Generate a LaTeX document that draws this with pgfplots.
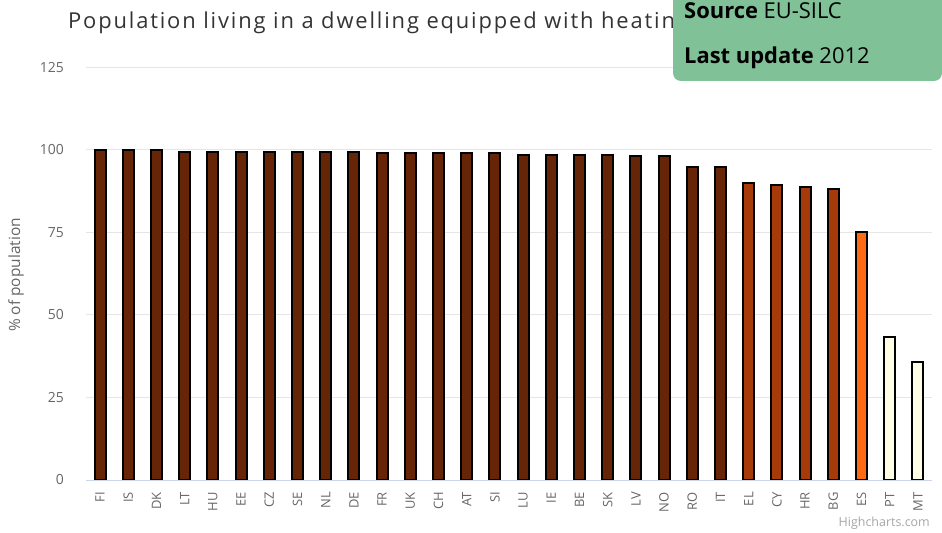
\documentclass[border=0pt]{standalone}
\usepackage{pgfplots}
\pgfplotsset{compat=1.18}
\usepackage{fontspec}
\setmainfont{Open Sans}
\newfontfamily\titlefont[LetterSpace=8.4]{Open Sans}
\definecolor{cdark}{HTML}{662506}
\definecolor{cmid}{HTML}{A63A08}
\definecolor{corange}{HTML}{FE6A14}
\definecolor{clight}{HTML}{FFFFE5}
\definecolor{gridgray}{HTML}{E6E6E6}
\definecolor{axisblue}{HTML}{CCD6EB}
\definecolor{labelgray}{HTML}{666666}
\definecolor{titlegray}{HTML}{333333}
\definecolor{boxgreen}{HTML}{80C197}
\begin{document}
\begin{tikzpicture}
\path[use as bounding box] (0,0) rectangle (942bp,533bp);
\begin{axis}[
  at={(86bp,53bp)}, anchor=south west,
  scale only axis, width=846bp, height=412.5bp,
  xmin=-0.5, xmax=29.5, ymin=0, ymax=125,
  ytick={0,25,50,75,100,125},
  xtick={0,...,29},
  xticklabels={FI,IS,DK,LT,HU,EE,CZ,SE,NL,DE,FR,UK,CH,AT,SI,LU,IE,BE,SK,LV,NO,RO,IT,EL,CY,HR,BG,ES,PT,MT},
  /pgf/number format/assume math mode=true,
  x tick label style={rotate=90, anchor=east, font=\fontsize{13}{15}\selectfont, text=labelgray, inner sep=0pt, xshift=-12bp},
  y tick label style={anchor=east, font=\fontsize{14}{16}\selectfont, text=labelgray, inner sep=0pt, xshift=-22bp},
  major tick length=0pt,
  separate axis lines,
  axis x line*=bottom, axis y line*=left,
  x axis line style={draw=axisblue, line width=1bp, -},
  y axis line style={draw=none},
  ymajorgrids, grid style={draw=gridgray, line width=1bp},
  ylabel={\% of population},
  ylabel style={at={(axis description cs:-0.0827,0.497)}, anchor=center, font=\fontsize{15.5}{18}\selectfont, text=labelgray},
  title={\titlefont Population living in a dwelling equipped with heating},
  title style={at={(axis description cs:-0.0213,1.094)}, anchor=west, font=\fontsize{22}{26}\selectfont, text=titlegray, inner sep=0pt},
  ybar, bar width=11bp,
  every axis plot/.append style={bar shift=0pt, draw=black, line width=2bp},
]
\addplot[fill=cdark] coordinates {
  (0,99.9) (1,99.9) (2,99.9) (3,99.4) (4,99.4) (5,99.4) (6,99.4) (7,99.4) (8,99.4) (9,99.4)
  (10,99.0) (11,99.0) (12,99.0) (13,99.0) (14,99.0) (15,98.6) (16,98.6) (17,98.6) (18,98.6)
  (19,98.2) (20,98.1) (21,94.8) (22,94.8)};
\addplot[fill=cmid] coordinates {(23,90.0) (24,89.5) (25,88.8) (26,88.1)};
\addplot[fill=corange] coordinates {(27,75.2)};
\addplot[fill=clight] coordinates {(28,43.4) (29,35.8)};
\end{axis}
\fill[boxgreen, rounded corners=8bp] (673bp,545bp) -- (673bp,452bp) -- (942bp,452bp) -- (942bp,545bp) -- cycle;
\node[anchor=base west, inner sep=0pt, font=\fontsize{22}{26}\selectfont] at (684bp,514bp) {\textbf{Source} EU-SILC};
\node[anchor=base west, inner sep=0pt, font=\fontsize{22}{26}\selectfont] at (684bp,469bp) {\textbf{Last update} 2012};
\node[anchor=base east, inner sep=0pt, font=\fontsize{12.5}{15}\selectfont, text=gray!70] at (930bp,7bp) {Highcharts.com};
\end{tikzpicture}
\end{document}
